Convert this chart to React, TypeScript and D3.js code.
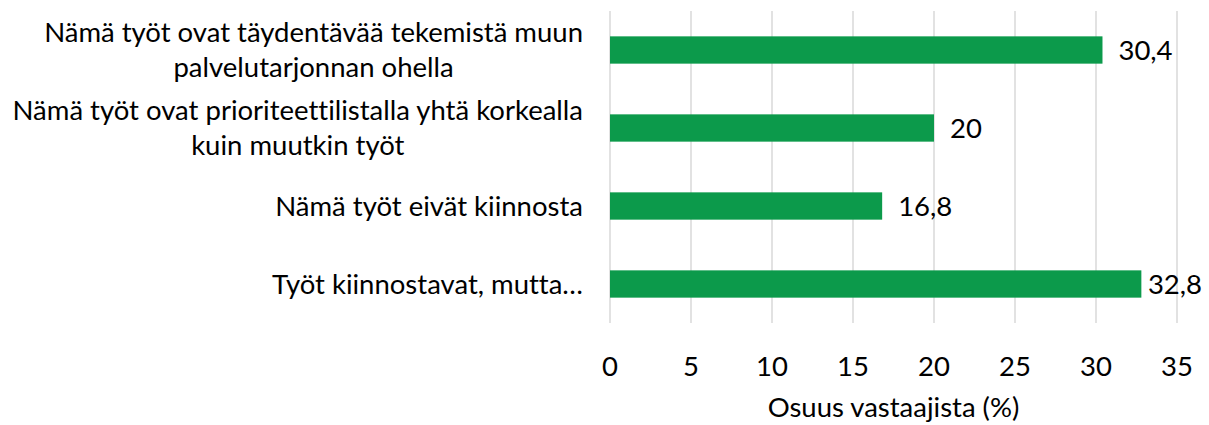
import React, { useEffect, useRef } from "react";
import * as d3 from "d3";

const categoryLines: string[][] = [
  ["Nämä työt ovat täydentävää tekemistä muun", "palvelutarjonnan ohella"],
  ["Nämä työt ovat prioriteettilistalla yhtä korkealla", "kuin muutkin työt"],
  ["Nämä työt eivät kiinnosta"],
  ["Työt kiinnostavat, mutta…"],
];
const values: number[] = [30.4, 20, 16.8, 32.8];
const xTicks: number[] = [0, 5, 10, 15, 20, 25, 30, 35];
const xTitle = "Osuus vastaajista (%)";

const W = 1209;
const H = 425;
const FONT = "Lato, 'Liberation Sans', sans-serif";
const FS = 27.5;
const BAR = "#0c9a4b";
const GRID = "#d9d9d9";
const TEXT = "#000000";

export default function App() {
  const ref = useRef<SVGSVGElement | null>(null);

  useEffect(() => {
    const svg = d3.select(ref.current);
    svg.selectAll("*").remove();

    const x = d3.scaleLinear().domain([0, 35]).range([610, 1177]);
    const y = d3
      .scaleBand<number>()
      .domain(d3.range(values.length))
      .range([11, 323])
      .paddingInner(0.65)
      .paddingOuter(0.325);

    const fmt = d3.formatLocale({
      decimal: ",",
      thousands: " ",
      grouping: [3],
      currency: ["", "€"],
    }).format(".3~g");

    // gridlines
    svg
      .append("g")
      .selectAll("line")
      .data(xTicks)
      .join("line")
      .attr("x1", (d) => x(d))
      .attr("x2", (d) => x(d))
      .attr("y1", 11)
      .attr("y2", 323)
      .attr("stroke", GRID)
      .attr("stroke-width", 1.5);

    // bars
    svg
      .append("g")
      .selectAll("rect")
      .data(values)
      .join("rect")
      .attr("x", x(0))
      .attr("y", (_, i) => y(i)!)
      .attr("width", (d) => x(d) - x(0))
      .attr("height", y.bandwidth())
      .attr("fill", BAR);

    // value labels (kept inside the chart area like the original)
    const maxRight = 1202;
    svg
      .append("g")
      .selectAll("text")
      .data(values)
      .join("text")
      .attr("y", (_, i) => y(i)! + y.bandwidth() / 2 + 9.5)
      .attr("font-family", FONT)
      .attr("font-size", FS)
      .attr("fill", TEXT)
      .text((d) => fmt(d))
      .each(function (d) {
        const el = this as SVGTextElement;
        const w = el.getComputedTextLength();
        el.setAttribute("x", String(Math.min(x(d) + 16, maxRight - w)));
      });

    // tick labels
    svg
      .append("g")
      .selectAll("text")
      .data(xTicks)
      .join("text")
      .attr("x", (d) => x(d))
      .attr("y", 376)
      .attr("text-anchor", "middle")
      .attr("font-family", FONT)
      .attr("font-size", FS)
      .attr("fill", TEXT)
      .text((d) => String(d));

    // axis title
    svg
      .append("text")
      .attr("x", (x(0) + x(35)) / 2)
      .attr("y", 417)
      .attr("text-anchor", "middle")
      .attr("font-family", FONT)
      .attr("font-size", FS)
      .attr("fill", TEXT)
      .text(xTitle);

    // category labels
    const rightEdge = 583;
    const lineH = 35;
    categoryLines.forEach((lines, i) => {
      const cy = y(i)! + y.bandwidth() / 2;
      const g = svg.append("g");
      const texts = lines.map((l, k) =>
        g
          .append("text")
          .attr("text-anchor", "middle")
          .attr("font-family", FONT)
          .attr("font-size", FS)
          .attr("fill", TEXT)
          .attr("y", cy + (k - (lines.length - 1) / 2) * lineH + 9.5)
          .text(l)
      );
      const maxW = d3.max(texts, (t) => (t.node() as SVGTextElement).getComputedTextLength()) || 0;
      texts.forEach((t) => t.attr("x", rightEdge - maxW / 2));
    });
  }, []);

  return (
    <svg
      ref={ref}
      width={W}
      height={H}
      style={{
        position: "absolute",
        left: 0,
        top: 0,
        background: "#fff",
        fontVariantLigatures: "none",
      }}
    />
  );
}
